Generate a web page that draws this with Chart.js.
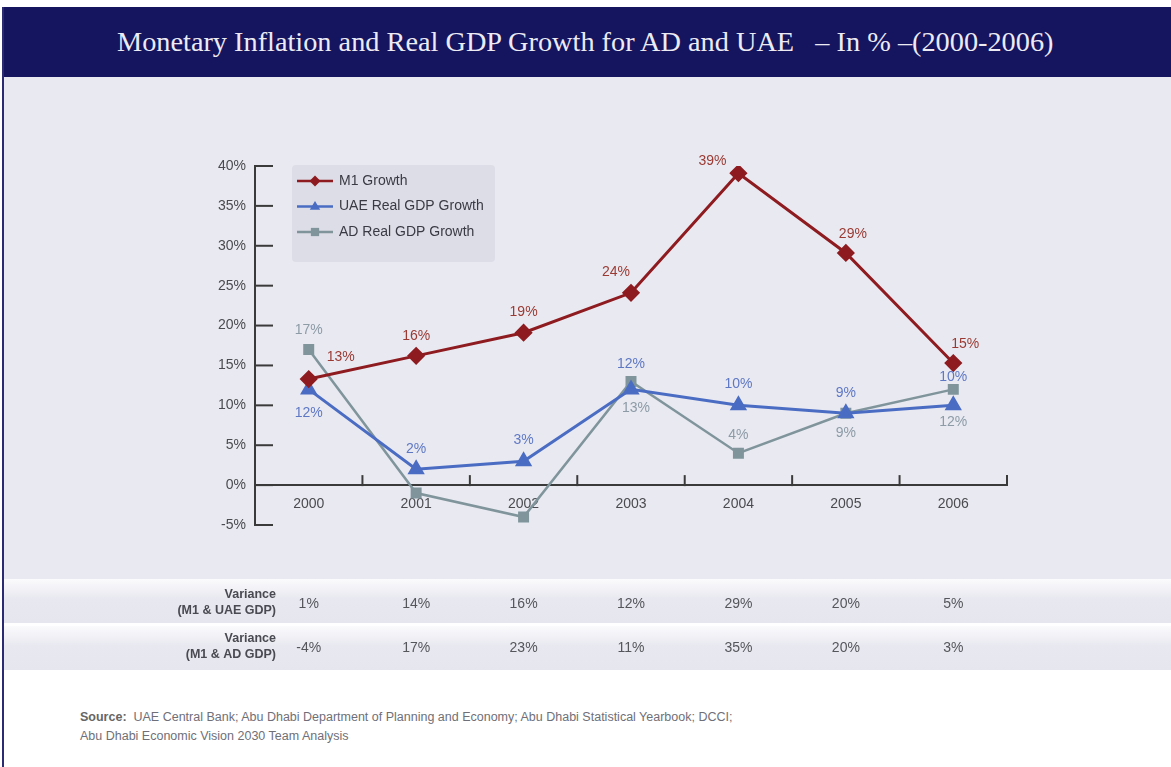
<!DOCTYPE html>
<html>
<head>
<meta charset="utf-8">
<script src="https://cdn.jsdelivr.net/npm/chart.js@4.4.1/dist/chart.umd.min.js"></script>
<style>
  html, body { margin: 0; padding: 0; background: #fff; }
  body { width: 1171px; height: 767px; position: relative; overflow: hidden; font-family: "Liberation Sans Narrow", "Liberation Sans", Arial, sans-serif; }
  #band { position: absolute; left: 3px; top: 7px; width: 1168px; height: 70px; background: #15145f; }
  #title { position: absolute; left: 114px; top: 19px; color: #ecebf4; font-family: "Liberation Serif", serif; font-size: 28.3px; white-space: pre; }
  #plotbg { position: absolute; left: 3px; top: 77px; width: 1168px; height: 503px; background: #e9e9f1; }
  .row { position: absolute; left: 3px; width: 1168px; height: 44px; background: linear-gradient(#fbfbfd, #e8e8f0 45%, #e6e6ee); }
  #leftline { position: absolute; left: 2px; top: 7px; width: 2px; height: 760px; background: #2b2a72; }
  #chartbox { position: absolute; left: 0; top: 78px; width: 1171px; height: 600px; }
  #source { position: absolute; left: 80px; top: 708px; font-size: 12.5px; line-height: 19px; color: #6f6f78; }
  #source b { color: #666; }
</style>
</head>
<body>
<div id="band"><div id="title">Monetary Inflation and Real GDP Growth for AD and UAE   – In % –(2000-2006)</div></div>
<div id="plotbg"></div>
<div class="row" style="top:579px"></div>
<div class="row" style="top:626px"></div>
<div id="leftline"></div>
<div id="chartbox"><canvas id="c" width="1171" height="600"></canvas></div>
<div id="source"><b>Source:</b>&nbsp; UAE Central Bank; Abu Dhabi Department of Planning and Economy; Abu Dhabi Statistical Yearbook; DCCI;<br>Abu Dhabi Economic Vision 2030 Team Analysis</div>
<script>
// data
const years = ['2000', '2001', '2002', '2003', '2004', '2005', '2006'];
const m1Growth = [13.3, 16.2, 19.1, 24.1, 39.1, 29.1, 15.3];
const uaeGdpGrowth = [12, 2, 3, 12, 10, 9, 10];
const adGdpGrowth = [17, -1, -4, 13, 4, 9, 12];
const varianceUae = ['1%', '14%', '16%', '12%', '29%', '20%', '5%'];
const varianceAd = ['-4%', '17%', '23%', '11%', '35%', '20%', '3%'];
const yMin = -5, yMax = 40, yStep = 5;

// where each value label sits relative to its point (null = no label)
const m1LabelPos = [[32, -22], [0, -20], [0, -21], [-15, -21], [-26, -12], [7, -19], [12, -19]];
const uaeLabelPos = [[0, 24], [0, -20], [0, -21], [0, -25], [0, -21], [0, -20], [0, -28]];
const adLabelPos = [[0, -19], null, null, [5, 27], [0, -18], [0, 20], [0, 33]];

const FONT = '"Liberation Sans Narrow", "Liberation Sans", Arial, sans-serif';

function drawMarker(ctx, style, x, y, r, color) {
  ctx.fillStyle = color;
  ctx.beginPath();
  if (style === 'rectRot') {
    ctx.moveTo(x, y - r); ctx.lineTo(x + r, y); ctx.lineTo(x, y + r); ctx.lineTo(x - r, y);
  } else if (style === 'triangle') {
    ctx.moveTo(x, y - r); ctx.lineTo(x + r * 0.95, y + r * 0.6); ctx.lineTo(x - r * 0.95, y + r * 0.6);
  } else {
    ctx.rect(x - r * 0.75, y - r * 0.75, r * 1.5, r * 1.5);
  }
  ctx.closePath();
  ctx.fill();
}

const extras = {
  id: 'extras',
  beforeDatasetsDraw(chart) {
    const ctx = chart.ctx;
    // legend box
    ctx.save();
    ctx.fillStyle = '#dcdde6';
    ctx.beginPath();
    ctx.roundRect(292, 87, 203, 97, 4);
    ctx.fill();
    chart.data.datasets.forEach((ds, i) => {
      const ly = 103 + i * 25.5;
      ctx.strokeStyle = ds.borderColor;
      ctx.lineWidth = 2.5;
      ctx.beginPath(); ctx.moveTo(297, ly); ctx.lineTo(333, ly); ctx.stroke();
      drawMarker(ctx, ds.pointStyle, 315, ly, 5.5, ds.pointBackgroundColor);
      ctx.fillStyle = '#3a3a44';
      ctx.font = '14px ' + FONT;
      ctx.textBaseline = 'middle';
      ctx.fillText(ds.label, 339, ly);
    });
    ctx.restore();
  },
  afterDraw(chart) {
    const ctx = chart.ctx, xs = chart.scales.x, ys = chart.scales.y, a = chart.chartArea;
    const y0 = ys.getPixelForValue(0);
    const half = (xs.getPixelForValue(1) - xs.getPixelForValue(0)) / 2;
    ctx.save();
    ctx.strokeStyle = '#3a3a3a';
    ctx.lineWidth = 2;
    ys.ticks.forEach(t => {
      const py = ys.getPixelForValue(t.value);
      ctx.beginPath(); ctx.moveTo(a.left, py); ctx.lineTo(a.left + 18, py); ctx.stroke();
    });
    for (let i = 0; i < years.length; i++) {
      const px = xs.getPixelForValue(i) + half;
      ctx.beginPath(); ctx.moveTo(px, y0 + 1); ctx.lineTo(px, y0 - 10); ctx.stroke();
    }

    // value labels
    const labelSets = [[m1LabelPos, '#9a3a33'], [uaeLabelPos, '#5f78c4'], [adLabelPos, '#8c9ba6']];
    ctx.font = '14px ' + FONT;
    ctx.textAlign = 'center';
    ctx.textBaseline = 'middle';
    chart.data.datasets.forEach((ds, di) => {
      const meta = chart.getDatasetMeta(di);
      const [pos, color] = labelSets[di];
      ctx.fillStyle = color;
      meta.data.forEach((pt, i) => {
        if (!pos[i]) return;
        ctx.fillText(Math.round(ds.data[i]) + '%', pt.x + pos[i][0], pt.y + pos[i][1]);
      });
    });

    // variance table
    const rows = [[varianceUae, '(M1 & UAE GDP)', 526], [varianceAd, '(M1 & AD GDP)', 570]];
    rows.forEach(([vals, name, ry]) => {
      ctx.fillStyle = '#4a4a52';
      ctx.font = 'bold 12.5px ' + FONT;
      ctx.textAlign = 'right';
      ctx.fillText('Variance', 276, ry - 9);
      ctx.fillText(name, 276, ry + 7);
      ctx.font = '14px ' + FONT;
      ctx.textAlign = 'center';
      ctx.fillStyle = '#55555c';
      vals.forEach((v, i) => ctx.fillText(v, xs.getPixelForValue(i), ry));
    });
    ctx.restore();
  }
};

new Chart(document.getElementById('c'), {
  type: 'line',
  data: {
    labels: years,
    datasets: [
      {
        label: 'M1 Growth', data: m1Growth,
        borderColor: '#8e1b1f', backgroundColor: '#8e1b1f', pointBackgroundColor: '#8e1b1f', pointBorderColor: '#8e1b1f',
        borderWidth: 3, pointStyle: 'rectRot', pointRadius: 7, tension: 0
      },
      {
        label: 'UAE Real GDP Growth', data: uaeGdpGrowth,
        borderColor: '#4a6cc3', backgroundColor: '#4a6cc3', pointBackgroundColor: '#4a6cc3', pointBorderColor: '#4a6cc3',
        borderWidth: 3, pointStyle: 'triangle', pointRadius: 7, tension: 0
      },
      {
        label: 'AD Real GDP Growth', data: adGdpGrowth,
        borderColor: '#7f959b', backgroundColor: '#7f959b', pointBackgroundColor: '#7f959b', pointBorderColor: '#7f959b',
        borderWidth: 2.5, pointStyle: 'rect', pointRadius: 6, tension: 0
      }
    ]
  },
  options: {
    responsive: false,
    animation: false,
    devicePixelRatio: 1,
    layout: { padding: { top: 88, right: 164, bottom: 153, left: 0 } },
    plugins: { legend: { display: false }, tooltip: { enabled: false } },
    scales: {
      x: {
        type: 'category',
        offset: true,
        position: { y: 0 },
        grid: { display: false, drawTicks: false },
        border: { display: true, color: '#3a3a3a', width: 2 },
        ticks: { color: '#4a4a50', font: { family: FONT, size: 14 }, padding: 11, maxRotation: 0 }
      },
      y: {
        min: yMin, max: yMax,
        grid: { display: false, drawTicks: false },
        border: { display: true, color: '#3a3a3a', width: 2 },
        afterFit: s => { s.width = 255; },
        ticks: { stepSize: yStep, color: '#4a4a50', font: { family: FONT, size: 14 }, padding: 9, callback: v => v + '%' }
      }
    }
  },
  plugins: [extras]
});
</script>
</body>
</html>
